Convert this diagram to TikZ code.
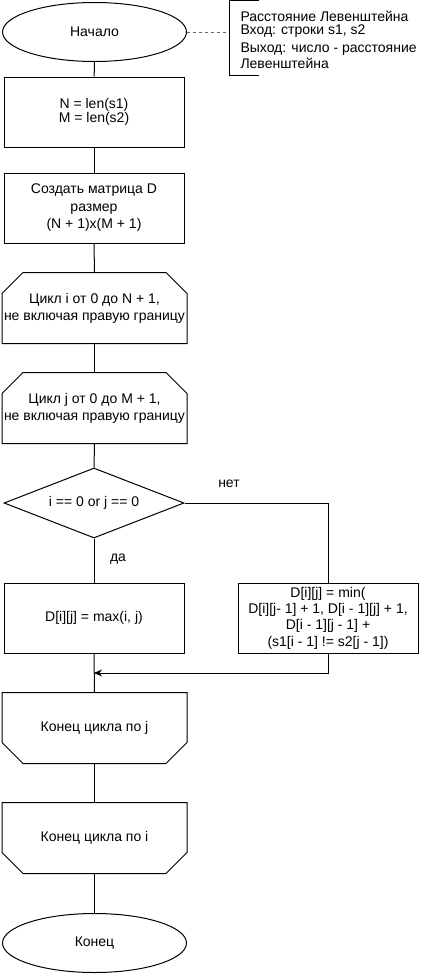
\documentclass[tikz,border=0pt]{standalone}
\usepackage{fontspec}
\setmainfont{Liberation Sans}
\usetikzlibrary{shapes.geometric,arrows.meta,calc}
\begin{document}
\begin{tikzpicture}[x=1pt,y=-1pt,
  font=\fontsize{14}{16}\selectfont,
  line width=1pt,
  every node/.style={inner sep=0pt},
  term/.style={draw, ellipse, minimum width=184pt, minimum height=59pt},
  box/.style={draw, rectangle, minimum width=180pt, minimum height=70pt, align=center},
  hexa/.style={rectangle, minimum width=184pt, minimum height=70pt, align=center},
  cond/.style={draw, diamond, aspect=2.57, minimum width=180pt, minimum height=70pt},
  conn/.style={draw, line width=1pt},
  lbl/.style={font=\fontsize{14}{16}\selectfont},
  cmt/.style={anchor=west, font=\fontsize{14}{16}\selectfont, text height=9.5pt, text depth=2pt}]
\useasboundingbox (0,0) rectangle (439,974);

\node[term] (start) at (94.5,32) {Начало};
\node[box, font=\fontsize{14}{13}\selectfont] (b1) at (94,112) {N = len(s1)\\M = len(s2)};
\node[box, font=\fontsize{14}{17.5}\selectfont] (b2) at (94,208) {Создать матрица D\\размер\\(N + 1)x(M + 1)};
\node[hexa, font=\fontsize{14}{17}\selectfont] (l1) at (94.5,308) {Цикл i от 0 до N + 1,\\не включая правую границу};
\node[hexa, font=\fontsize{14}{17}\selectfont] (l2) at (94.5,408) {Цикл j от 0 до M + 1,\\не включая правую границу};
\node[cond] (c) at (94,503) {i == 0 or j == 0};
\node[box] (yes) at (94,618) {D[i][j] = max(i, j)};
\node[box, font=\fontsize{14}{16.3}\selectfont] (no) at (328,618) {D[i][j] = min(\\D[i][j- 1] + 1, D[i - 1][j] + 1,\\D[i - 1][j - 1] +\\(s1[i - 1] != s2[j - 1])};
\node[hexa] (ej) at (94.5,728) {Конец цикла по j};
\node[hexa] (ei) at (94.5,838) {Конец цикла по i};
\node[term] (end) at (94.5,943) {Конец};

% chamfered loop shapes
\foreach \n in {l1,l2}{
  \draw (\n.south west) -- ($(\n.north west)+(0,21)$) -- ($(\n.north west)+(21,0)$)
     -- ($(\n.north east)+(-21,0)$) -- ($(\n.north east)+(0,21)$) -- (\n.south east) -- cycle;
}
\foreach \n in {ej,ei}{
  \draw (\n.north west) -- ($(\n.south west)+(0,-21)$) -- ($(\n.south west)+(21,0)$)
     -- ($(\n.south east)+(-21,0)$) -- ($(\n.south east)+(0,-21)$) -- (\n.north east) -- cycle;
}

% comment
\coordinate (ctop) at (259,1);
\coordinate (cbot) at (259,75);
\coordinate (cmid) at (229,32);
\draw (ctop) -- (229,1) -- (229,75) -- (cbot);
\draw[dashed, line width=0.8pt, gray!80!black] (start.east) -- (cmid);
\node[cmt] (t1) at (240,17.5) {Расстояние Левенштейна};
\node[cmt] (t2) at (240,31) {Вход: строки s1, s2};
\node[cmt] (t3) at (240,49) {Выход: число - расстояние};
\node[cmt] (t4) at (240,65) {Левенштейна};

% connectors
\draw[conn] (start) -- (b1);
\draw[conn] (b1) -- (b2);
\draw[conn] (b2) -- (l1);
\draw[conn] (l1) -- (l2);
\draw[conn] (l2) -- (c);
\draw[conn] (c) -- (yes);
\draw[conn] (c.east) -| (no.north);
\coordinate (merge) at (94,673);
\draw[conn] (yes) -- (ej);
\draw[conn, -{Stealth[length=8pt,width=7pt]}] (no.south) |- (merge);
\draw[conn] (ej) -- (ei);
\draw[conn] (ei) -- (end);

\node[lbl] (net) at (229,484) {нет};
\node[lbl] (da) at (118,559) {да};
\end{tikzpicture}
\end{document}
